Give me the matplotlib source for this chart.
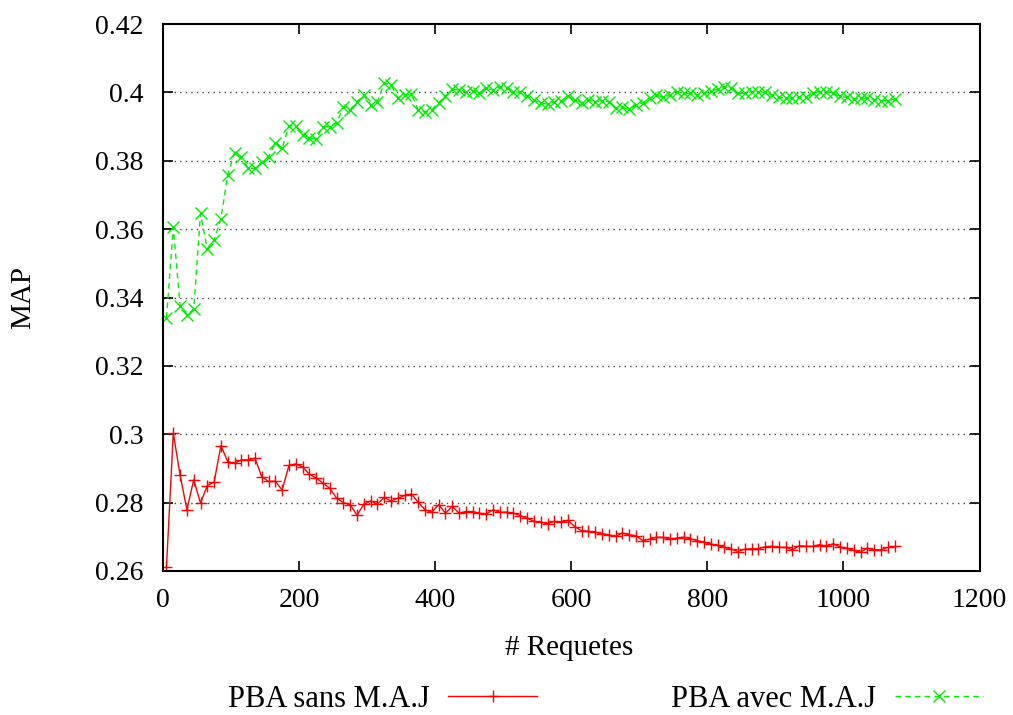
import matplotlib
matplotlib.use('Agg')
import matplotlib.pyplot as plt
import numpy as np

plt.rcParams['font.family'] = ['Liberation Serif', 'DejaVu Serif']

# nombre de requetes (un point toutes les 10 requetes)
requetes = np.arange(5, 1076, 10)

# PBA sans M.A.J
map_sans = [
    0.2613, 0.3003, 0.2881, 0.2779, 0.2867, 0.2799, 0.2850, 0.2860, 0.2967, 0.2920,
    0.2915, 0.2925, 0.2925, 0.2930, 0.2876, 0.2862, 0.2862, 0.2837, 0.2909, 0.2913,
    0.2904, 0.2883, 0.2872, 0.2857, 0.2842, 0.2813, 0.2800, 0.2794, 0.2763, 0.2795,
    0.2805, 0.2796, 0.2815, 0.2805, 0.2813, 0.2821, 0.2825, 0.2801, 0.2779, 0.2772,
    0.2794, 0.2769, 0.2789, 0.2769, 0.2774, 0.2774, 0.2769, 0.2767, 0.2779, 0.2772,
    0.2772, 0.2769, 0.2762, 0.2755, 0.2745, 0.2743, 0.2738, 0.2745, 0.2743, 0.2748,
    0.2730, 0.2718, 0.2716, 0.2714, 0.2709, 0.2706, 0.2701, 0.2711, 0.2706, 0.2703,
    0.2689, 0.2693, 0.2699, 0.2698, 0.2694, 0.2696, 0.2699, 0.2694, 0.2689, 0.2684,
    0.2679, 0.2675, 0.2669, 0.2664, 0.2657, 0.2664, 0.2665, 0.2665, 0.2671, 0.2672,
    0.2669, 0.2669, 0.2662, 0.2674, 0.2672, 0.2672, 0.2677, 0.2672, 0.2680, 0.2670,
    0.2667, 0.2660, 0.2655, 0.2667, 0.2662, 0.2662, 0.2669, 0.2672,
]

# PBA avec M.A.J
map_avec = [
    0.3341, 0.3605, 0.3376, 0.3349, 0.3366, 0.3646, 0.3542, 0.3568, 0.3631, 0.3758,
    0.3824, 0.3812, 0.3778, 0.3778, 0.3796, 0.3812, 0.3853, 0.3836, 0.3902, 0.3902,
    0.3875, 0.3867, 0.3864, 0.3900, 0.3900, 0.3911, 0.3958, 0.3949, 0.3973, 0.3992,
    0.3963, 0.3973, 0.4027, 0.4022, 0.3985, 0.3992, 0.3994, 0.3949, 0.3942, 0.3949,
    0.3970, 0.3988, 0.4009, 0.4007, 0.4002, 0.4005, 0.3997, 0.4012, 0.4007, 0.4017,
    0.4012, 0.4002, 0.4000, 0.3988, 0.3978, 0.3968, 0.3966, 0.3973, 0.3975, 0.3989,
    0.3978, 0.3970, 0.3978, 0.3973, 0.3976, 0.3973, 0.3953, 0.3956, 0.3950, 0.3963,
    0.3970, 0.3983, 0.3992, 0.3986, 0.3992, 0.4002, 0.3997, 0.3997, 0.3992, 0.3997,
    0.4005, 0.4009, 0.4017, 0.4012, 0.3997, 0.3997, 0.4002, 0.4002, 0.4000, 0.3992,
    0.3986, 0.3983, 0.3983, 0.3986, 0.3986, 0.3999, 0.4002, 0.4002, 0.3997, 0.3988,
    0.3986, 0.3980, 0.3983, 0.3983, 0.3978, 0.3976, 0.3976, 0.3980,
]

x_ticks = [0, 200, 400, 600, 800, 1000, 1200]
y_ticks = [0.26, 0.28, 0.3, 0.32, 0.34, 0.36, 0.38, 0.4, 0.42]
y_labels = ['0.26', '0.28', '0.3', '0.32', '0.34', '0.36', '0.38', '0.4', '0.42']

fig = plt.figure(figsize=(10.13, 7.15), dpi=100)
ax = fig.add_axes([0.161, 0.2014, 0.806, 0.7650])

ax.plot(requetes, map_sans, color='#ff0000', linestyle='-', linewidth=1,
        marker='+', markersize=9, markeredgewidth=1, label='PBA sans M.A.J')
ax.plot(requetes, map_avec, color='#00ee00', linestyle=(0, (4, 3)), linewidth=1,
        marker='x', markersize=8.5, markeredgewidth=1, label='PBA avec M.A.J')

ax.set_xlim(0, 1200)
ax.set_ylim(0.26, 0.42)
ax.set_xticks(x_ticks)
ax.set_xticklabels([str(t) for t in x_ticks])
ax.set_yticks(y_ticks)
ax.set_yticklabels(y_labels)
ax.tick_params(direction='in', top=True, right=True, length=7, width=1.2,
               labelsize=20)
ax.tick_params(axis='x', pad=12)
ax.tick_params(axis='y', pad=14)

# grille pointillee seulement pour les graduations internes
for yv in y_ticks[1:-1]:
    ax.axhline(yv, color='#444444', linestyle=(0, (1, 3)), linewidth=1, zorder=0)

for sp in ax.spines.values():
    sp.set_linewidth(1.5)

ax.set_xlabel('# Requetes', fontsize=21)
ax.xaxis.label.set_va('center')
ax.xaxis.set_label_coords(0.497, -0.14)
ax.set_ylabel('MAP', fontsize=21)
ax.yaxis.set_label_coords(-0.155, 0.5)

fig.legend(loc='center', bbox_to_anchor=(0.598, 0.022), ncol=2, frameon=False,
           markerfirst=False, fontsize=22, handlelength=2.9, columnspacing=4.4,
           handletextpad=0.6)

plt.savefig('out.png', dpi=100)
plt.close()
